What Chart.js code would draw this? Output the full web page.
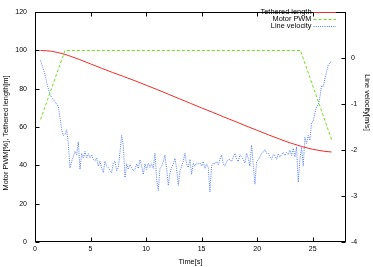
<!DOCTYPE html>
<html>
<head>
<meta charset="utf-8">
<script src="https://cdn.jsdelivr.net/npm/chart.js@4/dist/chart.umd.min.js"></script>
<style>
    html, body { margin: 0; padding: 0; background: #fff; }
    #wrap { width: 373px; height: 267px; position: relative; }
</style>
</head>
<body>
<div id="wrap"><canvas id="chart"></canvas></div>
<script>
// Tick labels
const timeTicks = [0, 5, 10, 15, 20, 25];
const leftTicks = [0, 20, 40, 60, 80, 100, 120];
const rightTicks = [-4, -3, -2, -1, 0];

// Axis titles
const timeTitle = 'Time[s]';
const leftTitle = 'Motor PWM[%], Tethered length[m]';
const rightTitle = 'Line velocity[m/s]';

// Tethered length [m]
const lengthTime = [0.5, 1, 1.5, 2, 2.5, 3, 4, 5, 6, 7, 8, 9, 10, 11, 12, 13, 14, 15, 16, 17, 18, 19, 20, 21, 22, 23, 24, 25, 26, 26.7];
const lengthValues = [100, 99.9, 99.6, 99.0, 98.3, 97.4, 95.3, 93.0, 90.7, 88.5, 86.4, 84.2, 81.9, 79.6, 77.2, 74.8, 72.4, 70.0, 67.7, 65.3, 63.0, 60.6, 58.3, 56.0, 53.8, 51.7, 49.9, 48.4, 47.4, 47.0];

// Motor PWM [%]
const pwmTime = [0.5, 2.7, 23.9, 26.7];
const pwmValues = [64, 100, 100, 53.5];

// Line velocity [m/s]
const velocityTime = [
    0.5, 0.7, 0.9, 1.05, 1.35, 1.6, 1.8, 2.1, 2.25, 2.4, 2.55, 2.7, 2.85, 3.0, 3.15, 3.3, 3.45, 3.6, 3.75, 3.9,
    4.05, 4.2, 4.35, 4.5, 4.65, 4.8, 4.95, 5.1, 5.25, 5.4, 5.55, 5.7, 5.85, 6.0, 6.15, 6.3, 6.45, 6.6, 6.75, 6.9,
    7.05, 7.2, 7.35, 7.5, 7.65, 7.8, 7.95, 8.1, 8.25, 8.4, 8.55, 8.7, 8.85, 9.0, 9.15, 9.3, 9.45, 9.6, 9.75, 9.9,
    10.05, 10.2, 10.35, 10.5, 10.65, 10.8, 10.95, 11.1, 11.25, 11.4, 11.55, 11.7, 11.85, 12.0, 12.15, 12.3, 12.45, 12.6, 12.75, 12.9,
    13.05, 13.2, 13.35, 13.5, 13.65, 13.8, 13.95, 14.1, 14.25, 14.4, 14.55, 14.7, 14.85, 15.0, 15.15, 15.3, 15.45, 15.6, 15.75, 15.9,
    16.05, 16.2, 16.35, 16.5, 16.65, 16.8, 16.95, 17.1, 17.25, 17.4, 17.55, 17.7, 17.85, 18.0, 18.15, 18.3, 18.45, 18.6, 18.75, 18.9,
    19.05, 19.2, 19.35, 19.5, 19.65, 19.8, 19.95, 20.1, 20.25, 20.4, 20.55, 20.7, 20.85, 21.0, 21.15, 21.3, 21.45, 21.6, 21.75, 21.9,
    22.05, 22.2, 22.35, 22.5, 22.65, 22.8, 22.95, 23.1, 23.25, 23.4, 23.55, 23.7, 23.85, 24.0, 24.15, 24.3, 24.45, 24.6, 24.75, 24.9,
    25.05, 25.2, 25.35, 25.5, 25.65, 25.8, 25.95, 26.1, 26.25, 26.4, 26.55, 26.7
];
const velocityValues = [
    -0.05, -0.2, -0.35, -0.53, -0.8, -0.88, -0.95, -1.05, -1.3, -1.55, -1.68, -1.66, -1.56, -1.86, -2.39, -2.25, -2.14, -2.03, -2.1, -1.82,
    -2.42, -2.07, -2.17, -2.03, -2.17, -2.08, -2.17, -2.1, -2.2, -2.24, -2.17, -2.35, -2.24, -2.39, -2.49, -2.24, -2.35, -2.38, -2.45, -2.49,
    -2.28, -2.24, -2.45, -2.38, -2.05, -1.68, -1.9, -2.6, -2.3, -2.42, -2.32, -2.38, -2.45, -2.42, -2.3, -2.4, -2.21, -2.35, -2.53, -2.3,
    -2.42, -2.28, -2.38, -2.3, -2.4, -2.07, -2.63, -2.88, -2.4, -2.35, -2.25, -2.11, -2.4, -2.77, -2.5, -2.38, -2.3, -2.18, -2.4, -2.77,
    -2.45, -2.35, -2.25, -2.07, -2.3, -2.38, -2.2, -2.53, -2.28, -2.35, -2.28, -2.3, -2.28, -2.35, -2.25, -2.4, -2.3, -2.38, -2.91, -2.35,
    -2.28, -2.3, -2.25, -2.32, -2.2, -2.11, -2.3, -2.35, -2.25, -2.2, -2.21, -2.25, -2.15, -2.07, -2.2, -2.25, -2.1, -2.15, -2.2, -2.28,
    -2.07, -2.18, -2.35, -1.89, -2.3, -2.74, -2.25, -2.21, -2.15, -2.07, -2.05, -1.99, -2.07, -2.07, -2.15, -2.2, -2.1, -2.12, -2.2, -2.08,
    -2.15, -2.1, -2.05, -2.12, -2.05, -2.1, -2.0, -2.12, -1.96, -2.15, -1.93, -2.7, -2.2, -1.94, -2.35, -1.72, -1.86, -1.68, -1.79, -1.4,
    -1.37, -1.2, -1.05, -1.02, -0.84, -0.6, -0.62, -0.45, -0.3, -0.15, -0.1, -0.07
];

const FONT = 'Liberation Sans, Arial, sans-serif';

const toPoints = (xs, ys) => xs.map((x, i) => ({ x: x, y: ys[i] }));

// frame box + inward ticks, like gnuplot
const frameTicks = {
    id: 'frameTicks',
    afterDraw(chart) {
        const { ctx, chartArea: a, scales } = chart;
        const L = Math.round(a.left) + 0.5, R = Math.round(a.right) - 0.5;
        const T = Math.round(a.top) + 0.5, B = Math.round(a.bottom) - 0.5;
        const len = 4;
        ctx.save();
        ctx.strokeStyle = '#000';
        ctx.lineWidth = 1;
        ctx.strokeRect(L, T, R - L, B - T);
        ctx.beginPath();
        timeTicks.forEach(v => {
            const px = Math.round(scales.x.getPixelForValue(v)) + 0.5;
            ctx.moveTo(px, B); ctx.lineTo(px, B - len);
            ctx.moveTo(px, T); ctx.lineTo(px, T + len);
        });
        leftTicks.forEach(v => {
            const py = Math.round(scales.y.getPixelForValue(v)) + 0.5;
            ctx.moveTo(L, py); ctx.lineTo(L + len, py);
        });
        rightTicks.forEach(v => {
            const py = Math.round(scales.y2.getPixelForValue(v)) + 0.5;
            ctx.moveTo(R, py); ctx.lineTo(R - len, py);
        });
        ctx.stroke();

        // y titles sit a little off centre in the original, so place them by hand
        ctx.fillStyle = '#000';
        ctx.font = '7.4px ' + FONT;
        ctx.textAlign = 'center';
        ctx.textBaseline = 'middle';
        ctx.save();
        ctx.translate(5.5, 133);
        ctx.rotate(-Math.PI / 2);
        ctx.fillText(leftTitle, 0, 0);
        ctx.restore();
        ctx.save();
        ctx.translate(367.5, 102.5);
        ctx.rotate(Math.PI / 2);
        ctx.fillText(rightTitle, 0, 0);
        ctx.restore();
        ctx.restore();
    }
};

// legend in the top right corner: text right aligned, sample line after it
const keyBox = {
    id: 'keyBox',
    afterDraw(chart) {
        const { ctx } = chart;
        const textRight = 311.5, lineStart = 313.5, lineEnd = 336;
        ctx.save();
        ctx.font = '7.4px ' + FONT;
        ctx.textAlign = 'right';
        ctx.textBaseline = 'middle';
        chart.data.datasets.forEach((ds, i) => {
            const y = 11.7 + i * 7;
            ctx.fillStyle = '#000';
            ctx.fillText(ds.label, textRight, y);
            ctx.strokeStyle = ds.borderColor;
            ctx.lineWidth = ds.borderWidth;
            ctx.setLineDash(ds.borderDash || []);
            ctx.beginPath();
            ctx.moveTo(lineStart, Math.round(y) + 0.5);
            ctx.lineTo(lineEnd, Math.round(y) + 0.5);
            ctx.stroke();
        });
        ctx.restore();
    }
};

const axisGrid = { drawOnChartArea: false, drawTicks: false };
const noBorder = { display: false };

new Chart(document.getElementById('chart'), {
    type: 'line',
    data: {
        datasets: [{
            label: 'Tethered length',
            data: toPoints(lengthTime, lengthValues),
            borderColor: '#f42a2a',
            borderWidth: 1,
            pointRadius: 0,
            tension: 0,
            yAxisID: 'y'
        }, {
            label: 'Motor PWM',
            data: toPoints(pwmTime, pwmValues),
            borderColor: '#72e01c',
            borderWidth: 1,
            borderDash: [3, 2],
            pointRadius: 0,
            tension: 0,
            yAxisID: 'y'
        }, {
            label: 'Line velocity',
            data: toPoints(velocityTime, velocityValues),
            borderColor: '#4f78f5',
            borderWidth: 1,
            borderDash: [1, 1.2],
            pointRadius: 0,
            tension: 0,
            yAxisID: 'y2'
        }]
    },
    options: {
        responsive: true,
        maintainAspectRatio: false,
        animation: false,
        layout: { padding: { top: 5, left: 0, right: 0, bottom: 0 } },
        plugins: {
            legend: { display: false },
            tooltip: { enabled: false }
        },
        scales: {
            x: {
                type: 'linear',
                min: 0, max: 28,
                grid: axisGrid,
                border: noBorder,
                afterBuildTicks: s => { s.ticks = timeTicks.map(v => ({ value: v })); },
                afterFit: s => { s.height = 25; },
                ticks: { color: '#000', font: { family: FONT, size: 7 }, padding: 3, maxRotation: 0 },
                title: { display: true, text: timeTitle, color: '#000', font: { family: FONT, size: 7.4 }, padding: { top: 0, bottom: 1 } }
            },
            y: {
                position: 'left',
                min: 0, max: 120,
                grid: axisGrid,
                border: noBorder,
                afterBuildTicks: s => { s.ticks = leftTicks.map(v => ({ value: v })); },
                afterFit: s => { s.width = 35; },
                ticks: { color: '#000', font: { family: FONT, size: 7 }, padding: 8 }
            },
            y2: {
                position: 'right',
                min: -4, max: 1,
                grid: axisGrid,
                border: noBorder,
                afterBuildTicks: s => { s.ticks = rightTicks.map(v => ({ value: v })); },
                afterFit: s => { s.width = 27; },
                ticks: { color: '#000', font: { family: FONT, size: 7 }, padding: 5 }
            }
        }
    },
    plugins: [frameTicks, keyBox]
});
</script>
</body>
</html>
